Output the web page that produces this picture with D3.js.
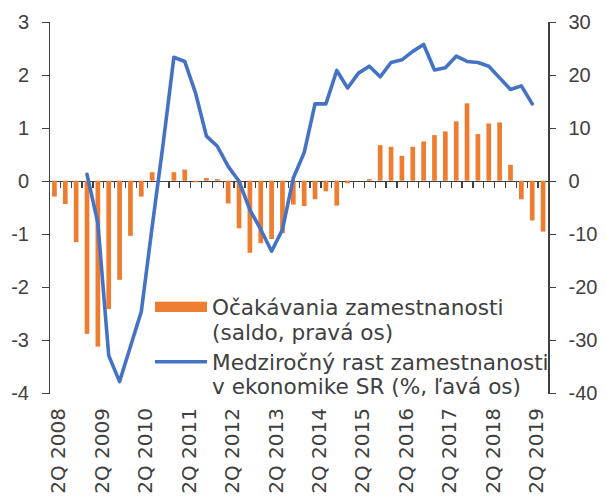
<!doctype html>
<html>
<head>
<meta charset="utf-8">
<title>Zamestnanost</title>
<script src="https://d3js.org/d3.v7.min.js"></script>
<style>
  body { margin: 0; background: #fff; }
  svg { display: block; font-family: "DejaVu Sans", Verdana, sans-serif; }
  .axis path, .axis line { stroke: #404040; stroke-width: 1.3; shape-rendering: crispEdges; }
  .axis text { fill: #404040; font-size: 20px; }
</style>
</head>
<body>
<script>

var categories = [
  "2Q 2008","3Q 2008","4Q 2008",
  "1Q 2009","2Q 2009","3Q 2009","4Q 2009",
  "1Q 2010","2Q 2010","3Q 2010","4Q 2010",
  "1Q 2011","2Q 2011","3Q 2011","4Q 2011",
  "1Q 2012","2Q 2012","3Q 2012","4Q 2012",
  "1Q 2013","2Q 2013","3Q 2013","4Q 2013",
  "1Q 2014","2Q 2014","3Q 2014","4Q 2014",
  "1Q 2015","2Q 2015","3Q 2015","4Q 2015",
  "1Q 2016","2Q 2016","3Q 2016","4Q 2016",
  "1Q 2017","2Q 2017","3Q 2017","4Q 2017",
  "1Q 2018","2Q 2018","3Q 2018","4Q 2018",
  "1Q 2019","2Q 2019","3Q 2019"
];

// ocakavania zamestnanosti (saldo, prava os)
var expectations = [
  -3.0, -4.4, -11.6,
  -28.9, -31.3, -24.2, -18.7,
  -10.4, -3.0, 1.6, 0,
  1.6, 2.1, -0.3, 0.5,
  0.3, -4.3, -9.0, -13.6,
  -11.8, -11.0, -9.9, -4.5,
  -4.8, -3.5, -2.0, -4.7,
  -0.5, 0, 0.3, 6.7,
  6.4, 4.7, 6.4, 7.4,
  8.6, 9.3, 11.2, 14.6,
  8.8, 10.8, 11.0, 3.0,
  -3.5, -7.5, -9.6
];

// medzirocny rast zamestnanosti (%, lava os)
var growth = [
  null, null, null,
  0.12, -0.8, -3.3, -3.79,
  -3.13, -2.47, -0.87, 0.68,
  2.33, 2.25, 1.65, 0.84,
  0.65, 0.27, -0.01, -0.55,
  -0.92, -1.33, -0.92, 0.05,
  0.53, 1.45, 1.45, 2.08,
  1.75, 2.03, 2.16, 1.96,
  2.23, 2.28, 2.44, 2.57,
  2.09, 2.13, 2.35, 2.25,
  2.23, 2.16, 1.94, 1.72,
  1.79, 1.45, null
];

var xLabels = ["2Q 2008","2Q 2009","2Q 2010","2Q 2011","2Q 2012","2Q 2013",
               "2Q 2014","2Q 2015","2Q 2016","2Q 2017","2Q 2018","2Q 2019"];
var leftTicks = [-4, -3, -2, -1, 0, 1, 2, 3];
var rightTicks = [-40, -30, -20, -10, 0, 10, 20, 30];

var legendBars = ["Očakávania zamestnanosti", "(saldo, pravá os)"];
var legendLine = ["Medziročný rast zamestnanosti", "v ekonomike SR (%, ľavá os)"];

(function(){
var W = 606, H = 499;
var mLeft = 49, mRight = 548.5, mTop = 21.7, mBottom = 392.7;
var orange = "#ED7D31", blue = "#4472C4";

var svg = d3.select("body").append("svg").attr("width", W).attr("height", H);

var x = d3.scaleBand().domain(categories).range([mLeft, mRight]).padding(0);
var xb = d3.scaleLinear().domain([0, categories.length]).range([mLeft, mRight]);
var yL = d3.scaleLinear().domain([-4, 3]).range([mBottom, mTop]);
var yR = d3.scaleLinear().domain([-40, 30]).range([mBottom, mTop]);

// axes
svg.append("g").attr("class", "axis")
  .attr("transform", "translate(" + mLeft + ",0)")
  .call(d3.axisLeft(yL).tickValues(leftTicks).tickSize(7).tickPadding(13)
    .tickFormat(function(d){ return String(d); }));

svg.append("g").attr("class", "axis")
  .attr("transform", "translate(" + mRight + ",0)")
  .call(d3.axisRight(yR).tickValues(rightTicks).tickSize(7).tickPadding(13)
    .tickFormat(function(d){ return String(d); }));

svg.append("g").attr("class", "axis")
  .attr("transform", "translate(0," + yL(0) + ")")
  .call(d3.axisBottom(xb).tickValues(d3.range(1, categories.length)).tickSize(7)
    .tickSizeOuter(0).tickFormat(""));

// bars
var bw = 4.7;
svg.selectAll("rect.bar").data(expectations).enter().append("rect")
  .attr("class", "bar")
  .attr("x", function(d, i){ return x(categories[i]) + (x.bandwidth() - bw) / 2; })
  .attr("y", function(d){ return Math.min(yR(d), yR(0)); })
  .attr("width", bw)
  .attr("height", function(d){ return Math.abs(yR(d) - yR(0)); })
  .attr("fill", orange);

// line
var line = d3.line()
  .defined(function(d){ return d != null; })
  .x(function(d, i){ return x(categories[i]) + x.bandwidth() / 2; })
  .y(function(d){ return yL(d); });

svg.append("path").datum(growth)
  .attr("d", line)
  .attr("fill", "none")
  .attr("stroke", blue)
  .attr("stroke-width", 3.6)
  .attr("stroke-linejoin", "round")
  .attr("stroke-linecap", "round");

// x labels, rotated
svg.selectAll("text.xl").data(xLabels).enter().append("text")
  .attr("class", "xl")
  .attr("transform", function(d){
    return "translate(" + (x(d) + x.bandwidth() / 2 + 4) + "," + 408 + ") rotate(-90)";
  })
  .attr("dy", "0.35em")
  .attr("text-anchor", "end")
  .attr("fill", "#404040")
  .style("font-size", "20px")
  .text(function(d){ return d; });

// legend
var lg = svg.append("g");
lg.append("rect").attr("x", 155).attr("y", 301.7).attr("width", 52).attr("height", 10.3).attr("fill", orange);
lg.append("line").attr("x1", 155).attr("x2", 207).attr("y1", 361.7).attr("y2", 361.7)
  .attr("stroke", blue).attr("stroke-width", 3.6);

function legendText(lines, y0) {
  lines.forEach(function(t, k){
    lg.append("text").attr("x", 212).attr("y", y0 + k * 24.8)
      .attr("fill", "#404040").style("font-size", "21.6px").text(t);
  });
}
legendText(legendBars, 315);
legendText(legendLine, 369.5);
})();

</script>
</body>
</html>
